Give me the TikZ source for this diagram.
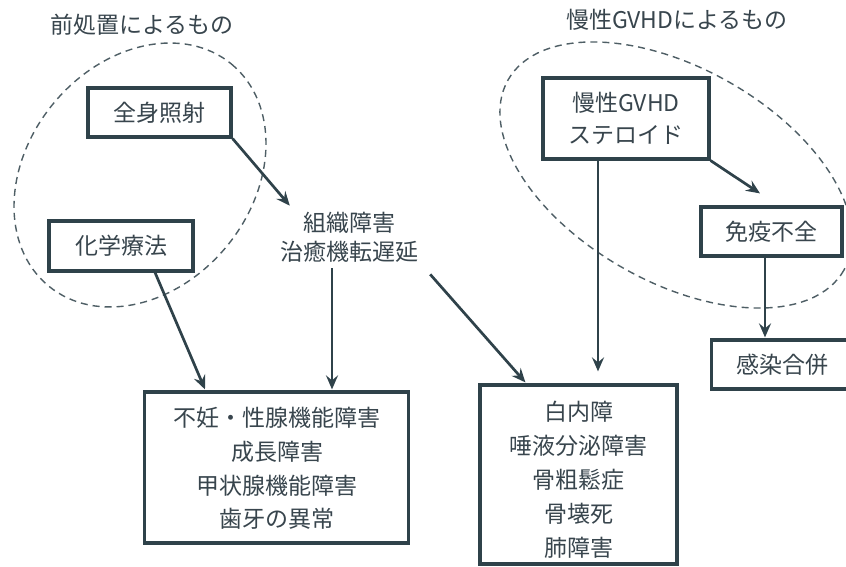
\documentclass[tikz,border=0pt]{standalone}
\usepackage{fontspec}
\setmainfont{Noto Sans CJK JP}
\usetikzlibrary{arrows.meta,calc}
\definecolor{ink}{HTML}{2F424A}
\definecolor{txt}{HTML}{38454D}
\begin{document}
\begin{tikzpicture}[x=1pt,y=-1pt,
  box/.style={draw=ink, line width=3.2pt, fill=white, inner sep=0pt, text=txt,
    font=\fontsize{23}{32}\selectfont, align=center},
  lbl/.style={text=txt, inner sep=0pt, align=center, font=\fontsize{23}{29}\selectfont},
  arr/.style={draw=ink, line width=2.7pt, -{Stealth[length=14pt,width=12pt,inset=5pt]}},
  grp/.style={draw=ink!85, line width=1.4pt, dash pattern=on 7pt off 5pt}]
\useasboundingbox (0,0) rectangle (846,567);
\fill[white] (0,0) rectangle (846,567);

% group outlines
\draw[grp, rotate around={50.5:(140,175)}] (140,175) ellipse [x radius=143.8, y radius=112.3];
\draw[grp, rotate around={-29.5:(676,175)}] (676,175) ellipse [x radius=193, y radius=107];

% titles
\node[lbl] (tl) at (142,25) {前処置によるもの};
\node[lbl] (tr) at (677,20) {慢性GVHDによるもの};

% boxes
\node[box, minimum width=143, minimum height=49] (zenshin) at (159.5,112.5) {全身照射};
\node[box, minimum width=144, minimum height=50] (kagaku) at (121,246) {化学療法};
\node[lbl] (soshiki) at (349,237) {組織障害\\治癒機転遅延};
\node[box, minimum width=166, minimum height=81] (gvhd) at (626,118.5) {慢性GVHD\\ステロイド};
\node[box, minimum width=141, minimum height=49] (menneki) at (771.5,231.5) {免疫不全};
\node[box, minimum width=141, minimum height=49] (kansen) at (782,364.5) {感染合併};

\node[box, minimum width=264, minimum height=151] (boxA) at (276.5,467.5) {};
\node[lbl, font=\fontsize{23}{33.7}\selectfont] (boxAt) at (277,468.5)
  {不妊・性腺機能障害\\成長障害\\甲状腺機能障害\\歯牙の異常};
\node[box, minimum width=197, minimum height=179] (boxB) at (578.5,474.5) {};
\node[lbl, font=\fontsize{23}{34}\selectfont] (boxBt) at (578.5,480)
  {白内障\\唾液分泌障害\\骨粗鬆症\\骨壊死\\肺障害};

% connectors
\draw[arr] (zenshin.south east) -- ($(soshiki.north west)+(10,-6)$);
\draw[arr] (kagaku.-38) -- ($(boxA.north)+(-71.5,-1)$);
\draw[arr] ($(soshiki.south)+(-17,6)$) -- ($(boxA.north)+(55.5,-1)$);
\draw[arr] ($(soshiki.south east)+(12,12)$) -- ($(boxB.north west)+(47,-1)$);
\draw[arr] ($(gvhd.south)+(-28,0)$) -- ($(boxB.north)+(19.5,-12)$);
\draw[arr] (gvhd.south east) -- ($(menneki.north)+(-11.5,-12)$);
\draw[arr] ($(menneki.south)+(-6.5,0)$) -- ($(kansen.north)+(-17,-1)$);
\end{tikzpicture}
\end{document}
